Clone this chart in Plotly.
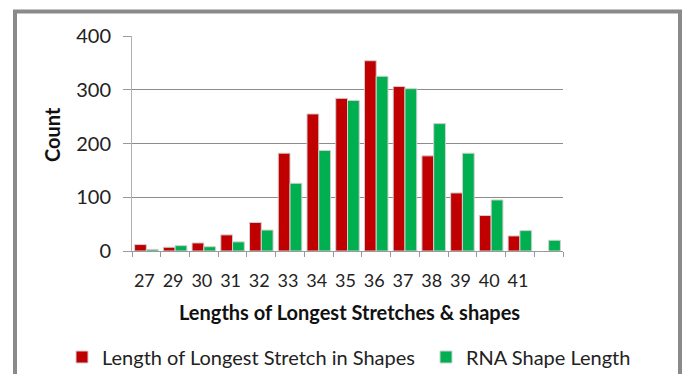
import plotly.graph_objects as go

categories = ["27", "29", "30", "31", "32", "33", "34", "35", "36", "37", "38", "39", "40", "41", " "]
longest_stretch = [12, 7, 15, 30, 53, 182, 255, 284, 354, 306, 177, 108, 66, 28, None]
rna_shape_length = [3, 10, 8, 17, 39, 126, 187, 280, 325, 302, 237, 182, 95, 38, 20]
y_ticks = [0, 100, 200, 300, 400]

FONT = "Lato"
FS = 20
W, H = 686, 374
L, R, T, B = 132, 123, 36, 123
PW, PH = W - L - R, H - T - B

def px_x(x):
    return (x - L) / PW

def px_y(y):
    return (H - B - y) / PH

fig = go.Figure()
fig.add_trace(go.Bar(
    x=categories, y=longest_stretch, name="Length of Longest Stretch in Shapes",
    marker=dict(color="#C00000", line=dict(color="#d0d0d0", width=1)),
    legend="legend",
))
fig.add_trace(go.Bar(
    x=categories, y=rna_shape_length, name="RNA Shape Length",
    marker=dict(color="#00B050", line=dict(color="#d0d0d0", width=1)),
    legend="legend2",
))

legend_common = dict(
    orientation="h", yanchor="middle", xanchor="left",
    font=dict(family=FONT, size=FS, color="#222222"),
    itemwidth=30, bgcolor="rgba(0,0,0,0)", borderwidth=0,
)

fig.update_layout(
    width=W, height=H,
    margin=dict(l=L, r=R, t=T, b=B, pad=0, autoexpand=False),
    paper_bgcolor="white", plot_bgcolor="white",
    barmode="group", bargap=0.18, bargroupgap=0.0,
    font=dict(family=FONT, size=FS, color="#222222"),
    xaxis=dict(
        type="category", categoryorder="array", categoryarray=categories,
        showline=True, linecolor="#9a9a9a", linewidth=1,
        ticks="outside", tickson="boundaries", ticklen=5, tickcolor="#9a9a9a",
        tickfont=dict(family=FONT, size=18, color="#222222"),
        tickangle=0, ticklabelstandoff=13, ticklabelshift=-2,
        showgrid=False, zeroline=False, automargin=False,
    ),
    yaxis=dict(
        range=[0, 400], tickvals=y_ticks,
        showline=True, linecolor="#b0b0b0", linewidth=1,
        ticks="outside", ticklen=8, tickcolor="#9a9a9a",
        tickfont=dict(family=FONT, size=FS, color="#222222"),
        ticklabelstandoff=8,
        showgrid=True, gridcolor="#8c8c8c", gridwidth=1,
        zeroline=False, automargin=False,
    ),
    legend=dict(x=px_x(62), y=px_y(357), **legend_common),
    legend2=dict(x=px_x(426), y=px_y(357), **legend_common),
    showlegend=True,
)

fig.add_annotation(
    text="<b>Count</b>", xref="paper", yref="paper",
    x=px_x(52), y=px_y(135), xanchor="center", yanchor="middle",
    showarrow=False, textangle=-90,
    font=dict(family=FONT, size=FS, color="#111111"),
)
fig.add_annotation(
    text="<b>Lengths of Longest Stretches &amp; shapes</b>", xref="paper", yref="paper",
    x=px_x(349), y=px_y(312), xanchor="center", yanchor="middle",
    showarrow=False,
    font=dict(family=FONT, size=FS, color="#111111"),
)

# outer frame
fig.add_shape(
    type="rect", xref="paper", yref="paper",
    x0=px_x(15), x1=px_x(680), y0=px_y(400), y1=px_y(11.5),
    line=dict(color="#8a8a8a", width=4), fillcolor="rgba(0,0,0,0)", layer="below",
)

fig.write_html("out.html")
